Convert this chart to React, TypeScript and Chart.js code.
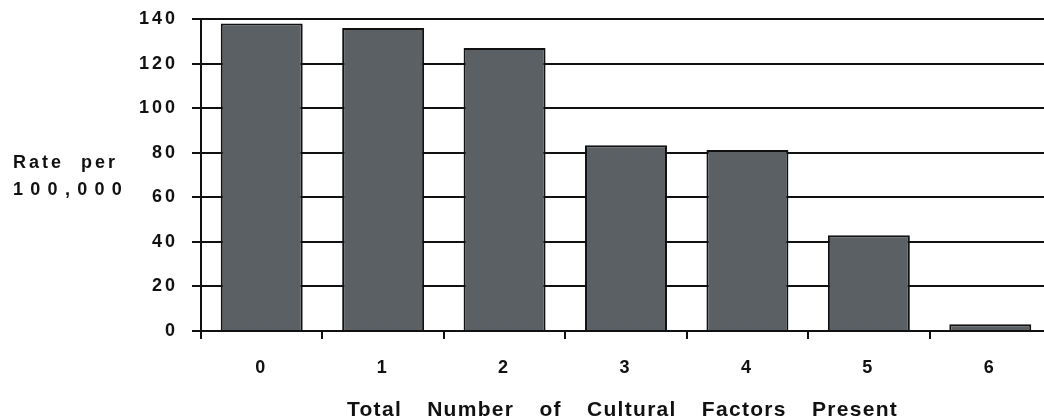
import React, { useEffect, useRef } from "react";
import { Chart, registerables } from "chart.js";

Chart.register(...registerables);

const categories = ["0", "1", "2", "3", "4", "5", "6"];
const rates = [138, 136, 127, 83.4, 81.2, 43, 3];
const yTickValues = [0, 20, 40, 60, 80, 100, 120, 140];
const xTitle = "Total Number of Cultural Factors Present";
const yTitleLines = ["Rate per", "100,000"];

const INK = "#111111";
const FONT = "'Liberation Sans', Arial, sans-serif";

const textPlugin = {
  id: "textStyling",
  beforeDraw(chart: any) {
    (chart.ctx as any).letterSpacing = "3px";
  },
  afterDraw(chart: any) {
    const ctx = chart.ctx as any;
    const a = chart.chartArea;
    ctx.save();
    ctx.fillStyle = INK;
    ctx.textBaseline = "alphabetic";
    // x-axis title
    ctx.font = `bold 21px ${FONT}`;
    ctx.letterSpacing = "1.3px";
    ctx.wordSpacing = "18px";
    ctx.textAlign = "center";
    ctx.fillText(xTitle, (a.left + 1044) / 2, 416);
    // y-axis title (horizontal, two lines)
    ctx.font = `bold 18px ${FONT}`;
    ctx.textAlign = "left";
    ctx.letterSpacing = "3px";
    ctx.wordSpacing = "9px";
    ctx.fillText(yTitleLines[0], 13, 168);
    ctx.letterSpacing = "7.3px";
    ctx.wordSpacing = "0px";
    ctx.fillText(yTitleLines[1], 13, 195);
    ctx.restore();
    ctx.letterSpacing = "0px";
  },
};

export default function App() {
  const canvasRef = useRef<HTMLCanvasElement | null>(null);

  useEffect(() => {
    if (!canvasRef.current) return;
    const chart = new Chart(canvasRef.current, {
      type: "bar",
      data: {
        labels: categories,
        datasets: [
          {
            data: rates,
            backgroundColor: "#5b6065",
            borderColor: INK,
            borderWidth: 2,
            barPercentage: 0.675,
            categoryPercentage: 1,
          },
        ],
      },
      options: {
        responsive: false,
        animation: false,
        devicePixelRatio: 1,
        layout: { padding: { top: 19, right: 1, bottom: 0, left: 0 } },
        plugins: {
          legend: { display: false },
          tooltip: { enabled: false },
          title: { display: false },
        },
        scales: {
          x: {
            grid: {
              offset: true,
              drawOnChartArea: false,
              drawTicks: true,
              tickLength: 8,
              color: INK,
              lineWidth: 2,
            },
            border: { display: true, color: INK, width: 2 },
            ticks: {
              color: INK,
              font: { family: FONT, size: 18, weight: "bold" },
              padding: 18,
              maxRotation: 0,
            },
            afterFit(scale: any) {
              scale.height = 89;
              scale.paddingLeft = 0;
              scale.paddingRight = 0;
            },
          },
          y: {
            min: yTickValues[0],
            max: yTickValues[yTickValues.length - 1],
            ticks: {
              stepSize: yTickValues[1] - yTickValues[0],
              color: INK,
              font: { family: FONT, size: 18, weight: "bold" },
              padding: 14,
            },
            grid: {
              color: INK,
              lineWidth: 2,
              drawTicks: true,
              tickLength: 9,
            },
            border: { display: true, color: INK, width: 2 },
            afterFit(scale: any) {
              scale.width = 201;
              scale.paddingTop = 0;
              scale.paddingBottom = 0;
            },
          },
        },
      },
      plugins: [textPlugin],
    });
    return () => chart.destroy();
  }, []);

  return (
    <div
      style={{
        position: "absolute",
        left: 0,
        top: 0,
        width: 1044,
        height: 420,
        overflow: "hidden",
        background: "#ffffff",
      }}
    >
      <canvas ref={canvasRef} width={1052} height={420} style={{ display: "block" }} />
    </div>
  );
}
